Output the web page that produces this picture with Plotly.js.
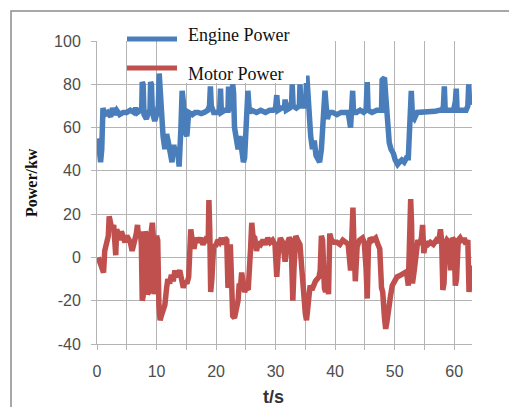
<!DOCTYPE html>
<html>
<head>
<meta charset="utf-8">
<script src="https://cdn.plot.ly/plotly-3.0.1.min.js"></script>
<style>
html,body{margin:0;padding:0;background:#fff;}
#chart{width:509px;height:407px;}
</style>
</head>
<body>
<div id="chart"></div>
<script>
// Engine power (kW) vs time (s)
var engineT = [0.2,0.4,0.6,0.8,1.0,1.3,1.8,2.3,2.6,2.9,3.3,3.8,4.4,5.0,5.6,6.2,6.5,6.8,7.3,7.5,7.6,7.75,7.9,8.3,8.6,8.9,9.0,9.15,9.3,9.7,10.0,10.3,10.45,10.6,10.9,11.1,11.4,11.7,12.0,12.3,12.6,12.9,13.2,13.5,13.8,14.1,14.3,14.5,14.8,15.1,15.4,16.0,16.5,17.0,17.5,18.0,18.6,18.9,19.05,19.2,19.6,20.3,20.6,20.75,20.9,21.5,22.0,22.1,22.2,22.6,22.8,22.95,23.1,23.4,23.7,24.0,24.3,24.6,24.8,25.1,25.35,25.6,26.0,26.8,27.5,28.3,29.0,29.6,30.0,30.2,30.4,31.0,31.5,31.6,31.8,32.4,32.7,32.8,32.95,33.5,34.0,34.1,34.25,34.8,35.1,35.25,35.4,35.6,35.9,36.2,36.5,36.8,37.1,37.4,37.7,38.0,38.3,38.5,38.7,39.0,39.6,40.3,41.0,41.6,42.2,42.6,42.8,42.95,43.1,43.6,44.2,44.8,45.2,45.4,45.55,46.2,47.0,47.8,47.9,48.3,48.5,48.8,49.1,49.4,49.8,50.1,50.5,50.8,51.2,51.6,52.0,52.3,52.6,52.8,53.0,53.3,53.8,54.5,55.3,56.0,56.8,57.5,58.0,58.2,58.35,58.5,59.2,59.9,60.2,60.35,60.5,61.2,62.0,62.3,62.45,62.6,62.8,63.0];
var engineP = [55,46,44,50,69,66,67,65,69,66,68,66,67,67,68,67,69,67,68,67,81,80,66,64,67,68,81,80,67,63,66,70,85,78,62,56,50,57,53,46,44,52,47,51,42,60,77,72,58,56,67,66,67,67,66.5,67,68,70,79,70,67,67,68,78,67,68,68,79,68,70,80,76,60,55,50,56,47,44,46,66,77,67,68,67,68,67,68,68,69,75,68,69,69,73,68,69,72,80,70,69,70,80,70,70,75,84,76,62,56,50,54,47,45,44,50,65,77,70,64,67,67,66,67,67,67,60,72,77,67,67,68,67,68,81,68,67,68,68,82,83,75,60,53,50,48,45,43,44,45,44,46,46,60,77,65,64,67,67,67,67.5,67.5,68,68,70,79,68,68,68,72,78,68,68,68,70,80,71,72,73];

// Motor power (kW) vs time (s)
var motorT = [0.2,0.4,0.8,1.1,1.3,1.6,1.9,2.05,2.2,2.5,2.8,3.0,3.15,3.3,3.6,3.9,4.1,4.4,4.7,5.0,5.3,5.6,5.9,6.2,6.6,6.8,7.0,7.3,7.45,7.6,7.75,7.9,8.1,8.3,8.5,8.7,8.9,9.2,9.3,9.45,9.6,9.8,10.0,10.2,10.4,10.6,10.8,11.1,11.4,11.7,11.9,12.2,12.5,12.8,13.1,13.4,13.7,13.9,14.2,14.5,14.8,15.1,15.4,15.6,15.75,16.0,16.3,16.6,17.0,17.4,17.8,18.2,18.5,18.7,18.8,18.95,19.1,19.3,19.6,19.9,20.3,20.6,20.9,21.2,21.5,21.8,22.0,22.2,22.4,22.6,22.8,23.1,23.4,23.7,23.9,24.1,24.3,24.5,24.8,25.1,25.4,25.8,26.0,26.2,26.5,26.8,27.1,27.5,27.9,28.3,28.7,29.1,29.5,29.9,30.2,30.5,30.8,31.2,31.6,31.9,32.3,32.6,32.9,33.1,33.4,33.7,34.1,34.4,34.7,35.0,35.2,35.5,35.8,36.1,36.4,36.7,37.0,37.3,37.5,37.7,37.9,38.2,38.4,38.7,38.9,39.1,39.4,39.8,40.3,40.8,41.3,41.8,42.2,42.6,42.8,43.0,43.15,43.4,43.7,44.1,44.6,44.9,45.2,45.4,45.6,45.9,46.3,46.8,47.2,47.5,47.8,48.0,48.3,48.5,48.7,49.0,49.3,49.6,50.0,50.4,50.8,51.2,51.6,52.0,52.3,52.55,52.7,52.85,53.0,53.3,53.6,53.9,54.2,54.5,54.7,54.9,55.2,55.6,56.0,56.5,57.0,57.4,57.7,57.9,58.1,58.3,58.5,58.8,59.1,59.4,59.7,60.0,60.2,60.4,60.7,61.0,61.4,61.7,62.0,62.3,62.5,62.7,62.9,63.0];
var motorP = [0,-2,-6,-7,3,6,10,19,15,13,15,8,1,13,10,8,12,9,7,10,8,7,3,6,11,15,9,12,6,-20,-18,6,12,10,-17,-16,8,13,16,10,-17,-10,10,8,-22,-29,-27,-25,-22,-14,-10,-12,-8,-11,-6,-9,-7,-6,-10,-14,-11,-12,-9,4,13,8,4,9,7,9,6,8,7,10,26.5,12,-16,-10,6,5,8,7,9,6,9,8,-14,-12,6,-20,-27,-28,-24,-20,-12,-14,-7,-11,-16,-14,-15,4,16,10,9,3,7,6,8,6,9,7,8,6,-9,4,9,7,-2,6,9,8,-20,-5,10,8,6,-5,-18,-26,-29,-22,-13,-15,-12,-11,-10,-9,-6,10,8,-14,-16,-10,-17,11,8,7,7,6,8,7,6,-6,8,23,8,-11,5,8,9,7,-5,-19,5,9,8,9,6,4,-14,-16,-28,-33,-30,-22,-18,-13,-11,-9,-8.5,-8,-7,-6.6,-13,10,27,15,-12,-6,5,8,6,9,15,2,7,6,7,6,8,7,13,8,-15,-12,6,8,7,-6,9,8,-13,-10,8,9,7,9,6,8,-16,-8,-4,-5];

var seriesNames = ["Engine Power", "Motor Power"];
var seriesColors = ["#4a7ebb", "#c0504d"];
var xTickVals = [0,10,20,30,40,50,60];
var yTickVals = [-40,-20,0,20,40,60,80,100];

var gridCol = "#b4b4b4";
var tickFont = {family: "Liberation Sans, Arial, sans-serif", size: 16, color: "#4d4d4d"};

var traces = [
  {x: engineT, y: engineP, type: "scatter", mode: "lines", name: seriesNames[0],
   line: {color: seriesColors[0], width: 5.5}, showlegend: false, hoverinfo: "x+y"},
  {x: motorT, y: motorP, type: "scatter", mode: "lines", name: seriesNames[1],
   line: {color: seriesColors[1], width: 5.5}, showlegend: false, hoverinfo: "x+y"}
];

function px2x(px){ return (px - 97) / 375; }
function px2y(py){ return (344 - py) / 303; }

var layout = {
  width: 509, height: 407,
  margin: {l: 97, r: 37, t: 41, b: 63, pad: 0},
  paper_bgcolor: "#ffffff", plot_bgcolor: "#ffffff",
  xaxis: {
    range: [0, 63], tickvals: xTickVals, ticktext: xTickVals.map(String),
    showgrid: true, gridcolor: gridCol, gridwidth: 1, zeroline: false,
    showline: true, linecolor: gridCol, linewidth: 1,
    ticks: "outside", ticklen: 5, tickcolor: gridCol, tickwidth: 1,
    tickfont: tickFont, ticklabelstandoff: 8,
    minor: {dtick: 5, tick0: 0, showgrid: true, gridcolor: gridCol, gridwidth: 1, ticks: "outside", ticklen: 5, tickcolor: gridCol}
  },
  yaxis: {
    range: [-40, 100], tickvals: yTickVals, ticktext: yTickVals.map(String),
    showgrid: true, gridcolor: gridCol, gridwidth: 1, zeroline: false,
    showline: true, linecolor: gridCol, linewidth: 1, mirror: false,
    ticks: "outside", ticklen: 5, tickcolor: gridCol, tickwidth: 1,
    tickfont: tickFont, ticklabelstandoff: 7
  },
  shapes: [
    {type: "rect", xref: "paper", yref: "paper", x0: px2x(11), x1: px2x(530), y0: px2y(430), y1: px2y(11),
     line: {color: "#8c8c8c", width: 1.5}, fillcolor: "rgba(0,0,0,0)", layer: "below"},
    {type: "rect", xref: "paper", yref: "paper", x0: px2x(185), x1: px2x(306), y0: px2y(83), y1: px2y(22),
     line: {width: 0}, fillcolor: "#ffffff", layer: "above"},
    {type: "line", xref: "paper", yref: "paper", x0: px2x(127), x1: px2x(177), y0: px2y(39), y1: px2y(39),
     line: {color: seriesColors[0], width: 5}},
    {type: "line", xref: "paper", yref: "paper", x0: px2x(127), x1: px2x(177), y0: px2y(68), y1: px2y(68),
     line: {color: seriesColors[1], width: 5}}
  ],
  annotations: [
    {text: seriesNames[0], xref: "paper", yref: "paper", x: px2x(186), y: px2y(35), xanchor: "left", yanchor: "middle",
     showarrow: false, font: {family: "Liberation Serif, Times New Roman, serif", size: 18, color: "#111"}},
    {text: seriesNames[1], xref: "paper", yref: "paper", x: px2x(186), y: px2y(74), xanchor: "left", yanchor: "middle",
     showarrow: false, font: {family: "Liberation Serif, Times New Roman, serif", size: 18, color: "#111"}},
    {text: "<b>Power/kw</b>", xref: "paper", yref: "paper", x: px2x(31), y: px2y(183), xanchor: "center", yanchor: "middle",
     textangle: -90, showarrow: false, font: {family: "Liberation Serif, Times New Roman, serif", size: 16, color: "#111"}},
    {text: "<b>t/s</b>", xref: "paper", yref: "paper", x: px2x(273), y: px2y(397), xanchor: "center", yanchor: "middle",
     showarrow: false, font: {family: "Liberation Sans, Arial, sans-serif", size: 18, color: "#333"}}
  ]
};

Plotly.newPlot("chart", traces, layout, {staticPlot: true, displayModeBar: false});
</script>
</body>
</html>
